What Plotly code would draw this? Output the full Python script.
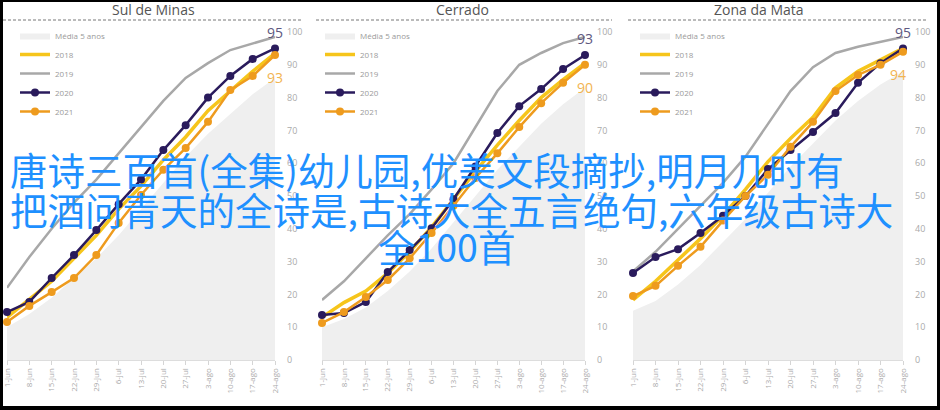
import plotly.graph_objects as go

weeks = ["1-jun", "8-jun", "15-jun", "22-jun", "29-jun", "6-jul", "13-jul",
         "20-jul", "27-jul", "3-ago", "10-ago", "17-ago", "24-ago"]
regions = ["Sul de Minas", "Cerrado", "Zona da Mata"]
series_names = ["Média 5 anos", "2018", "2019", "2020", "2021"]

# Sul de Minas
media_sul = [10, 14, 19, 25, 31, 38, 46, 54, 62, 69, 75, 81, 86]
y2018_sul = [13, 18.5, 24, 31, 38, 46, 53, 61, 68, 76, 82, 88, 93.5]
y2019_sul = [22, 31.4, 40, 48, 55, 63, 71, 79, 86, 90.5, 94.5, 96.6, 98.5]
y2020_sul = [14.6, 17.7, 25, 32, 39.6, 47.5, 55, 64, 71.6, 80, 86.6, 91.8, 95]
y2021_sul = [11.6, 16.5, 20.7, 25, 32, 41.8, 50.3, 58, 64.6, 72.6, 82.3, 86.6, 93]

# Cerrado
media_cer = [10, 12.5, 16, 21, 27, 34, 42, 50, 58, 65, 72, 78, 83]
y2018_cer = [13, 17.5, 21, 26.5, 33, 40.5, 49, 57.5, 65.5, 73, 80, 85.5, 90.5]
y2019_cer = [18.3, 24, 31, 38, 44.5, 52, 60, 71, 82, 90, 93.6, 96.6, 98.5]
y2020_cer = [13.7, 14.3, 17.7, 26.8, 33.5, 40.2, 49, 59, 69.2, 77.4, 82.6, 88.7, 93]
y2021_cer = [11.3, 14.6, 19.2, 24.4, 31, 38.7, 47, 55.5, 63, 71, 78.3, 84.5, 90]

# Zona da Mata
media_zm = [15, 18, 23, 29, 36, 43, 51, 59, 66, 73, 79, 84, 88]
y2018_zm = [18.3, 24, 30.5, 37, 44, 52, 60.5, 67.5, 74, 83, 88, 91.5, 95]
y2019_zm = [27, 33, 40, 47, 54, 62, 72, 82, 89.3, 93.6, 95.5, 97, 98.5]
y2020_zm = [26.5, 31.4, 33.8, 38.7, 44, 50, 58.2, 64, 69.5, 75.3, 84.5, 90.5, 95]
y2021_zm = [19.5, 22.6, 28.7, 34.5, 42.5, 50, 56.5, 65, 72.6, 82, 86.9, 90, 94]

y_ticks = [0, 10, 20, 30, 40, 50, 60, 70, 80, 90, 100]

overlay_lines = ["唐诗三百首(全集)幼儿园,优美文段摘抄,明月几时有",
                 "把酒问青天的全诗是,古诗大全五言绝句,六年级古诗大",
                 "全100首"]

panel_data = [
    (media_sul, y2018_sul, y2019_sul, y2020_sul, y2021_sul),
    (media_cer, y2018_cer, y2019_cer, y2020_cer, y2021_cer),
    (media_zm, y2018_zm, y2019_zm, y2020_zm, y2021_zm),
]

W, H = 940, 410
def px(x):
    return x / W
def py(y):
    return 1 - y / H

# layout geometry (pixels)
x_domains = [(7, 275), (322, 585), (633, 903)]
y_domain = [py(360), py(32)]
legend_pos = [(15, 21), (320, 21), (635, 21)]
title_pos = [153, 462, 759]
dash_spans = [(3, 302), (316, 612), (628, 927)]

C_MEDIA = "#EFEFEF"
C_2018 = "#F6C51B"
C_2019 = "#A8A8A8"
C_2020 = "#2A1B5C"
C_2021 = "#EE9B1E"

fig = go.Figure()
xs = list(range(len(weeks)))

for i, data in enumerate(panel_data):
    media, a18, a19, a20, a21 = data
    xa = "x" if i == 0 else f"x{i+1}"
    ya = "y" if i == 0 else f"y{i+1}"
    lg = "legend" if i == 0 else f"legend{i+1}"
    common = dict(xaxis=xa, yaxis=ya, legend=lg, cliponaxis=False, hoverinfo="skip")
    fig.add_trace(go.Scatter(x=xs, y=media, name=series_names[0], mode="lines",
                             fill="tozeroy", fillcolor=C_MEDIA,
                             line=dict(width=0, color=C_MEDIA), **common))
    fig.add_trace(go.Scatter(x=xs, y=a18, name=series_names[1], mode="lines",
                             line=dict(width=3.5, color=C_2018), **common))
    fig.add_trace(go.Scatter(x=xs, y=a19, name=series_names[2], mode="lines",
                             line=dict(width=2.5, color=C_2019), **common))
    fig.add_trace(go.Scatter(x=xs, y=a20, name=series_names[3], mode="lines+markers",
                             line=dict(width=2.5, color=C_2020),
                             marker=dict(size=8, color=C_2020), **common))
    fig.add_trace(go.Scatter(x=xs, y=a21, name=series_names[4], mode="lines+markers",
                             line=dict(width=2.5, color=C_2021),
                             marker=dict(size=8, color=C_2021), **common))

    x0, x1 = x_domains[i]
    xaxis = dict(domain=[px(x0), px(x1)], range=[0, len(weeks) - 1], anchor=ya,
                 tickmode="array", tickvals=xs, ticktext=weeks, tickangle=-90,
                 tickfont=dict(size=8, color="#AAAAAA", family="Open Sans"),
                 ticks="outside", ticklen=4, tickcolor="#D5D5D5",
                 showline=True, linecolor="#DDDDDD", linewidth=1, automargin=False,
                 showgrid=False, zeroline=False, fixedrange=True)
    yaxis = dict(domain=y_domain, range=[0, 100], anchor=xa, side="right",
                 tickmode="array", tickvals=y_ticks, automargin=False,
                 tickfont=dict(size=9, color="#AAAAAA", family="Open Sans"),
                 ticks="", ticklabelstandoff=11,
                 showline=False, showgrid=False, zeroline=False, fixedrange=True)
    fig.layout[("xaxis" if i == 0 else f"xaxis{i+1}")] = xaxis
    fig.layout[("yaxis" if i == 0 else f"yaxis{i+1}")] = yaxis

    lx, ly = legend_pos[i]
    fig.layout[lg] = dict(x=px(lx), y=py(ly), xanchor="left", yanchor="top",
                          bgcolor="rgba(0,0,0,0)", borderwidth=0,
                          font=dict(size=8, color="#9A9A9A", family="Open Sans"),
                          itemwidth=30, tracegroupgap=0, itemclick=False,
                          itemdoubleclick=False)

    # end-value labels
    fig.add_annotation(x=xs[-1], y=a20[-1], xref=xa, yref=ya, text=f"{a20[-1]:.0f}",
                       showarrow=False, yshift=16, xshift=0,
                       font=dict(size=14, color="#5E5880", family="Open Sans"))
    fig.add_annotation(x=xs[-1], y=a21[-1], xref=xa, yref=ya, text=f"{a21[-1]:.0f}",
                       showarrow=False, yshift=-23, xshift=(-5 if i == 2 else 0),
                       font=dict(size=14, color="#F2B451", family="Open Sans"))

    # panel title and dashed rule
    fig.add_annotation(x=px(title_pos[i]), y=py(9), xref="paper", yref="paper",
                       text=regions[i], showarrow=False, xanchor="center", yanchor="middle",
                       font=dict(size=14, color="#555555", family="Open Sans"))
    d0, d1 = dash_spans[i]
    fig.add_shape(type="line", xref="paper", yref="paper", x0=px(d0), x1=px(d1),
                  y0=py(20), y1=py(20), line=dict(color="#777777", width=1, dash="3px,2px"))

# overlay text
fig.add_annotation(x=px(8), y=py(169), xref="paper", yref="paper", text=overlay_lines[0],
                   showarrow=False, xanchor="left", yanchor="middle",
                   font=dict(size=37.5, color="#1E90FF", family="Noto Sans CJK SC"))
fig.add_annotation(x=px(8), y=py(208), xref="paper", yref="paper", text=overlay_lines[1],
                   showarrow=False, xanchor="left", yanchor="middle",
                   font=dict(size=37.5, color="#1E90FF", family="Noto Sans CJK SC"))
fig.add_annotation(x=px(446), y=py(245), xref="paper", yref="paper", text=overlay_lines[2],
                   showarrow=False, xanchor="center", yanchor="middle",
                   font=dict(size=37.5, color="#1E90FF", family="Noto Sans CJK SC"))

# black frame
for (a, b, c, d) in [(0, 0, 940, 2), (0, 406, 940, 410), (0, 0, 3, 410), (937, 0, 940, 410)]:
    fig.add_shape(type="rect", xref="paper", yref="paper", x0=px(a), x1=px(c),
                  y0=py(d), y1=py(b), fillcolor="black", line=dict(width=0), layer="above")

fig.update_layout(width=W, height=H, autosize=False,
                  margin=dict(l=0, r=0, t=0, b=0, pad=0),
                  paper_bgcolor="white", plot_bgcolor="white",
                  showlegend=True, font=dict(family="Open Sans"))

fig.write_html("out.html", config={"displayModeBar": False, "staticPlot": False},
               post_script="document.body.style.margin='0';document.body.style.overflow='hidden';")
